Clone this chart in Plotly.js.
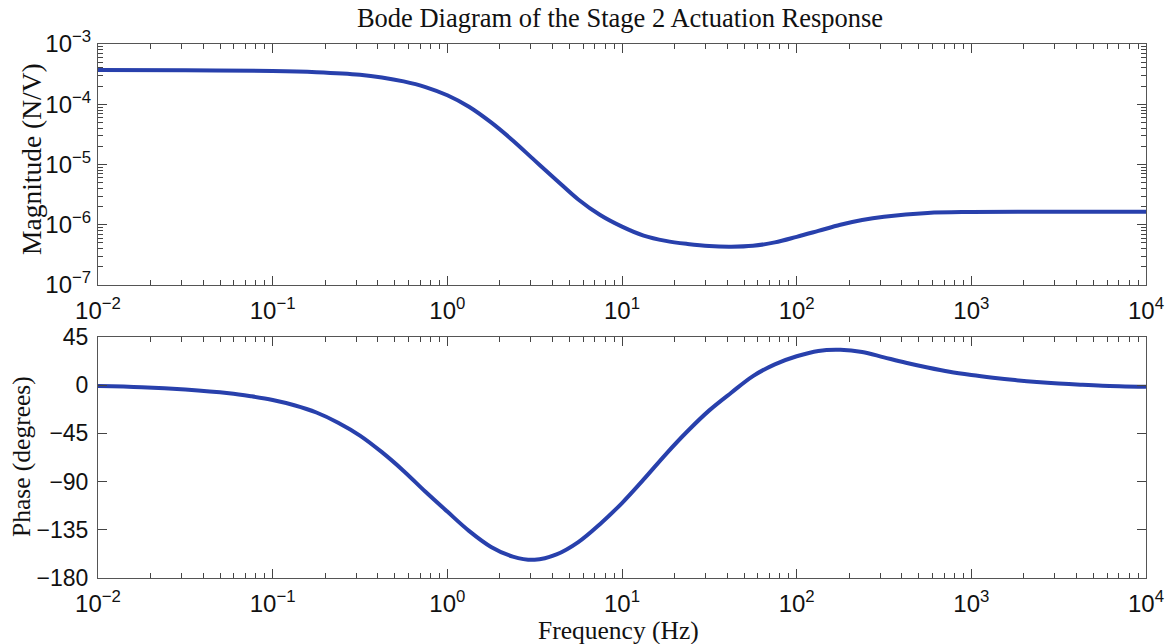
<!DOCTYPE html>
<html>
<head>
<meta charset="utf-8">
<script src="https://cdn.plot.ly/plotly-3.0.1.min.js"></script>
<style>
  html, body { margin: 0; padding: 0; background: #fff; }
  #chart { width: 1171px; height: 644px; }
</style>
</head>
<body>
<div id="chart"></div>
<script>
// Magnitude response samples (Hz, N/V)
const freqMag = [0.01, 0.0316, 0.1, 0.178, 0.316, 0.422, 0.562, 0.75, 1.0, 1.33, 1.78, 2.37, 3.16, 4.22, 5.62, 7.5, 10, 13.3, 17.8, 23.7, 31.6, 42.2, 56.2, 75, 100, 133, 178, 237, 316, 562, 1000, 3160, 10000];
const magnitude = [3.70e-4, 3.66e-4, 3.56e-4, 3.40e-4, 3.09e-4, 2.79e-4, 2.40e-4, 1.93e-4, 1.41e-4, 9.1e-5, 5.0e-5, 2.51e-5, 1.17e-5, 5.5e-6, 2.63e-6, 1.45e-6, 9.3e-7, 6.6e-7, 5.4e-7, 4.8e-7, 4.42e-7, 4.32e-7, 4.47e-7, 5.1e-7, 6.3e-7, 7.9e-7, 1.0e-6, 1.2e-6, 1.36e-6, 1.57e-6, 1.63e-6, 1.65e-6, 1.65e-6];

// Phase response samples (Hz, degrees)
const freqPhase = [0.01, 0.0178, 0.0316, 0.0562, 0.075, 0.1, 0.133, 0.178, 0.237, 0.316, 0.422, 0.562, 0.75, 1.0, 1.33, 1.78, 2.37, 3.16, 4.22, 5.62, 7.5, 10, 13.3, 17.8, 23.7, 31.6, 42.2, 56.2, 75, 100, 133, 178, 237, 316, 422, 562, 750, 1000, 1330, 1780, 2370, 3160, 4220, 5620, 10000];
const phaseDeg = [-0.7, -1.8, -4.0, -7.5, -10.3, -13.8, -18.7, -25.5, -35, -47, -62.5, -80, -99.5, -118, -136, -151, -160, -163, -158, -146.5, -129.5, -110, -88, -64.5, -43, -23.5, -7, 8.5, 19.5, 27, 32, 33, 31, 26, 21, 16.5, 12.5, 9.5, 7.0, 4.8, 3.0, 1.6, 0.5, -0.4, -1.5];

// Tick labels
const freqTicks = [1e-2, 1e-1, 1e0, 1e1, 1e2, 1e3, 1e4];
const freqTickText = ['10<sup>−2</sup>', '10<sup>−1</sup>', '10<sup>0</sup>', '10<sup>1</sup>', '10<sup>2</sup>', '10<sup>3</sup>', '10<sup>4</sup>'];
const magTicks = [1e-7, 1e-6, 1e-5, 1e-4, 1e-3];
const magTickText = ['10<sup>−7</sup>', '10<sup>−6</sup>', '10<sup>−5</sup>', '10<sup>−4</sup>', '10<sup>−3</sup>'];
const phaseTicks = [-180, -135, -90, -45, 0, 45];
const phaseTickText = ['−180', '−135', '−90', '−45', '0', '45'];

// Minor tick positions for log axes (2..9 within each decade)
function logMinors(lo, hi) {
  const out = [];
  for (let e = lo; e < hi; e++) {
    for (let m = 2; m <= 9; m++) out.push(m * Math.pow(10, e));
  }
  return out;
}

const lineColor = 'rgb(40,64,172)';
const logTickFont = { family: 'Liberation Sans, Arial, sans-serif', size: 24, color: '#111' };
const linTickFont = { family: 'Liberation Sans, Arial, sans-serif', size: 23, color: '#111' };
const serif = 'Liberation Serif, Times New Roman, serif';
const labelFont = { family: serif, size: 25.5, color: '#111' };

const traces = [
  { x: freqMag, y: magnitude, type: 'scatter', mode: 'lines',
    line: { color: lineColor, width: 4, shape: 'spline', smoothing: 1 },
    xaxis: 'x', yaxis: 'y', hoverinfo: 'x+y' },
  { x: freqPhase, y: phaseDeg, type: 'scatter', mode: 'lines',
    line: { color: lineColor, width: 4, shape: 'spline', smoothing: 1 },
    xaxis: 'x2', yaxis: 'y2', hoverinfo: 'x+y' }
];

function freqAxis(anchor) {
  return {
    type: 'log', range: [-2, 4], anchor: anchor, domain: [0, 1],
    tickmode: 'array', tickvals: freqTicks, ticktext: freqTickText,
    ticks: 'inside', ticklen: 9, tickcolor: '#444', tickwidth: 1,
    minor: { tickmode: 'array', tickvals: logMinors(-2, 4), ticks: 'inside', ticklen: 5, tickcolor: '#444', showgrid: false },
    showline: true, linecolor: '#555', linewidth: 1, mirror: 'allticks',
    showgrid: false, zeroline: false, tickfont: logTickFont, ticklabelstandoff: 4
  };
}

const layout = {
  width: 1171, height: 644,
  margin: { l: 98, r: 25, t: 44, b: 66 },
  paper_bgcolor: '#fff', plot_bgcolor: '#fff',
  showlegend: false,
  title: {
    text: 'Bode Diagram of the Stage 2 Actuation Response',
    font: { family: serif, size: 26.5, color: '#111' },
    xref: 'container', x: 620 / 1171, xanchor: 'center',
    yref: 'container', y: 1 - 18 / 644, yanchor: 'middle'
  },
  xaxis: freqAxis('y'),
  yaxis: {
    type: 'log', range: [-7, -3], domain: [0.5487, 1], anchor: 'x',
    tickmode: 'array', tickvals: magTicks, ticktext: magTickText,
    ticks: 'inside', ticklen: 9, tickcolor: '#444',
    minor: { tickmode: 'array', tickvals: logMinors(-7, -3), ticks: 'inside', ticklen: 5, tickcolor: '#444', showgrid: false },
    showline: true, linecolor: '#555', linewidth: 1, mirror: 'allticks',
    showgrid: false, zeroline: false, tickfont: logTickFont, ticklabelstandoff: 1
  },
  xaxis2: freqAxis('y2'),
  yaxis2: {
    range: [-180, 45], domain: [0, 0.4513], anchor: 'x2',
    tickmode: 'array', tickvals: phaseTicks, ticktext: phaseTickText,
    ticks: 'inside', ticklen: 9, tickcolor: '#444',
    showline: true, linecolor: '#555', linewidth: 1, mirror: 'allticks',
    showgrid: false, zeroline: false, tickfont: linTickFont, ticklabelstandoff: 4
  },
  annotations: [
    { text: 'Magnitude (N/V)', xref: 'paper', yref: 'paper', x: (31 - 98) / 1048, y: (578 - 159) / 534,
      textangle: -90, showarrow: false, font: Object.assign({}, labelFont, { size: 27.5 }), xanchor: 'center', yanchor: 'middle' },
    { text: 'Phase (degrees)', xref: 'paper', yref: 'paper', x: (21 - 98) / 1048, y: (578 - 457) / 534,
      textangle: -90, showarrow: false, font: labelFont, xanchor: 'center', yanchor: 'middle' },
    { text: 'Frequency (Hz)', xref: 'paper', yref: 'paper', x: (618 - 98) / 1048, y: (578 - 630) / 534,
      showarrow: false, font: labelFont, xanchor: 'center', yanchor: 'middle' }
  ]
};

Plotly.newPlot('chart', traces, layout, { displayModeBar: false, staticPlot: true });
</script>
</body>
</html>
